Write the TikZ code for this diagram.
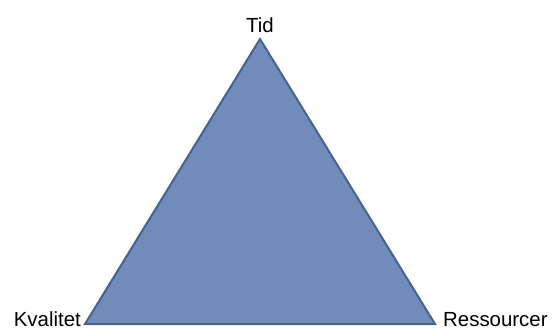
\documentclass[tikz,border=0pt]{standalone}
\usepackage{fontspec}
\setmainfont{Liberation Sans}
\usetikzlibrary{positioning}
\definecolor{trifill}{RGB}{113,139,186}
\definecolor{triline}{RGB}{72,98,143}

\begin{document}
\begin{tikzpicture}[x=1bp,y=-1bp,
  corner/.style={font=\fontsize{20.5}{22}\selectfont,inner sep=0pt}]
  \useasboundingbox (0,0) rectangle (552,329);
  \coordinate (tid) at (260,39);
  \coordinate (kval) at (85,324);
  \coordinate (ress) at (435,324);
  \filldraw[fill=trifill,draw=triline,line width=2bp,line join=miter]
    (tid) -- (kval) -- (ress) -- cycle;
  \node[corner,anchor=base] (tidlbl) at (260,32) {Tid};
  \node[corner,anchor=base east] (kvallbl) at (81,326) {Kvalitet};
  \node[corner,anchor=base west] (resslbl) at (443,326) {Ressourcer};
\end{tikzpicture}
\end{document}
